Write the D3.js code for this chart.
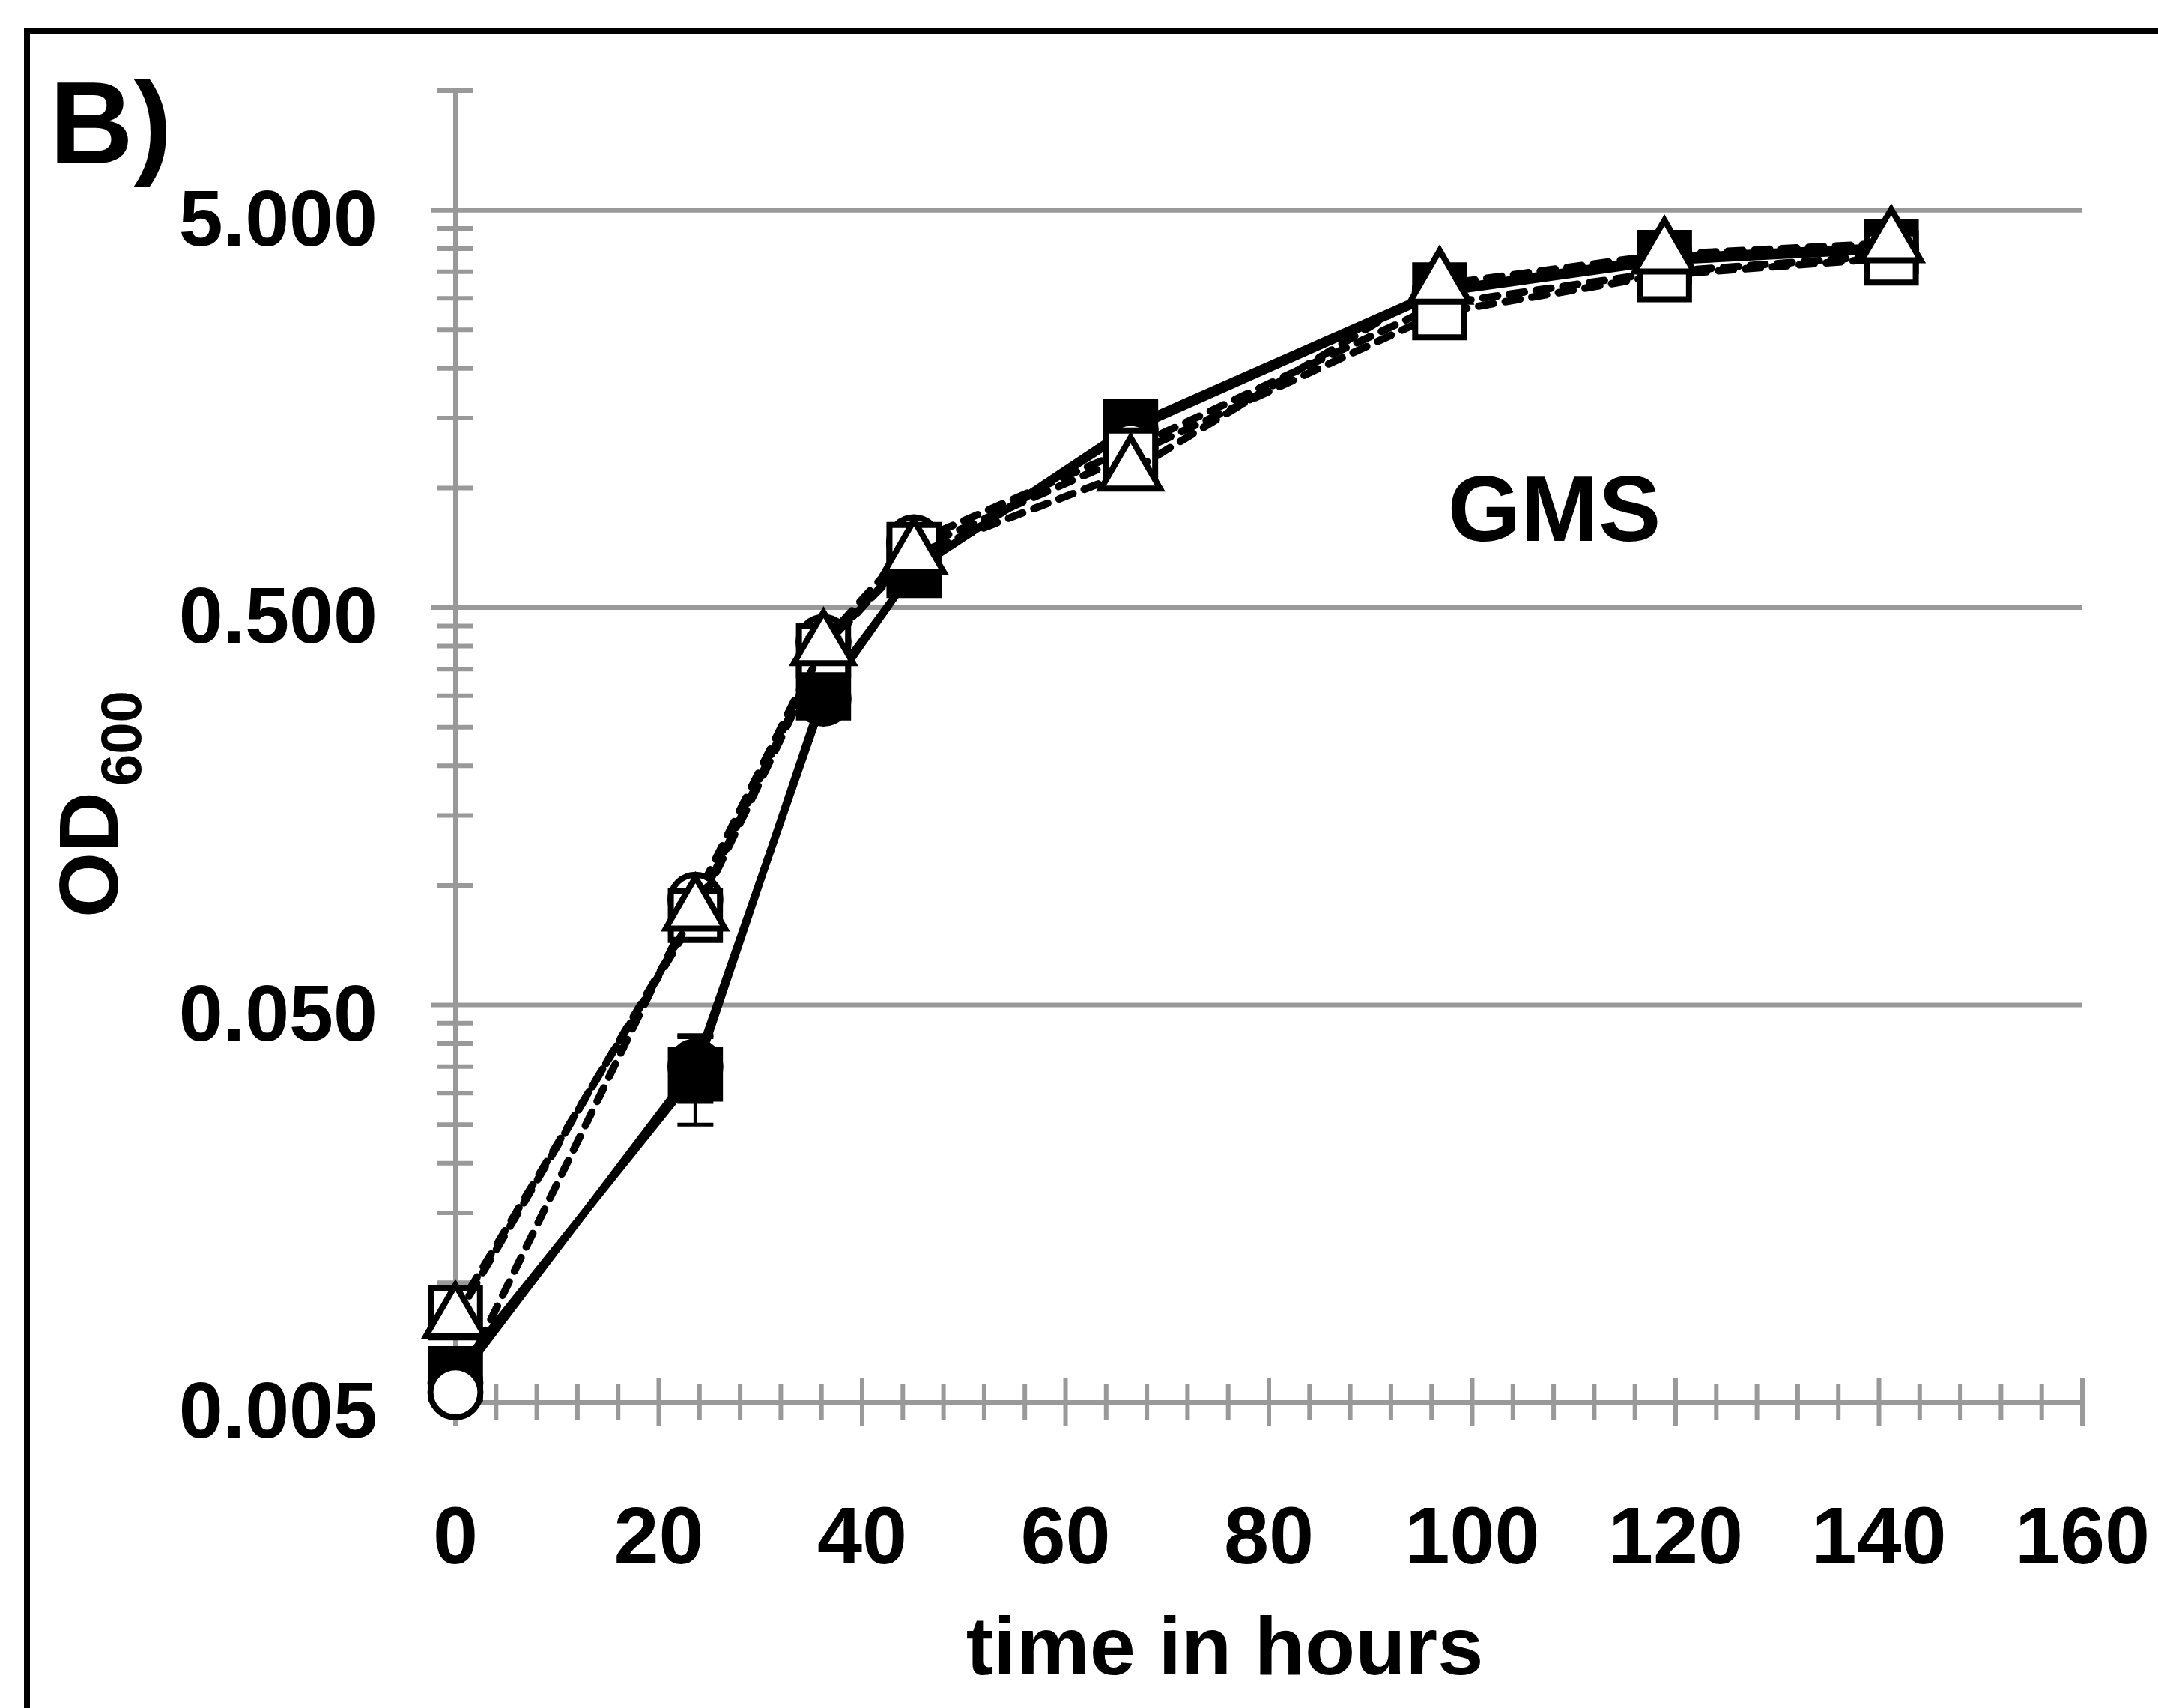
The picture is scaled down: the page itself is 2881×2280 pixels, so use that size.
<!DOCTYPE html>
<html lang="en">
<head>
<meta charset="utf-8">
<title>OD600 growth curve - GMS</title>
<script src="https://d3js.org/d3.v7.min.js"></script>
<style>
  body { margin: 0; background: #fff; }
  text { font-family: "Liberation Sans", Arial, sans-serif; font-weight: bold; fill: #000; }
</style>
</head>
<body>
<div id="chart"></div>
<script>
// sampling times (hours)
var hours = [0, 23.6, 36.2, 45.1, 66.4, 96.8, 118.9, 141.2];

// OD600 for each strain
var filledCircle = [0.0056, 0.0350, 0.295, 0.625, 1.40, 3.10, 3.72, 3.98];
var filledSquare = [0.0059, 0.0335, 0.305, 0.62, 1.43, 3.15, 3.80, 4.05];
var openCircle   = [0.0053, 0.092, 0.41, 0.73, 1.26, 2.90, 3.50, 3.85];
var openSquare   = [0.0084, 0.084, 0.39, 0.70, 1.21, 2.76, 3.44, 3.79];
var openTriangle = [0.0081, 0.086, 0.40, 0.68, 1.10, 3.25, 3.87, 4.13];

// standard deviations (error bars)
var filledCircleSd = [0.0003, 0.0065, 0.02, 0.03, 0.06, 0.10, 0.10, 0.10];
var filledSquareSd = [0.0003, 0.0085, 0.02, 0.03, 0.06, 0.10, 0.10, 0.10];
var openCircleSd   = [0.0003, 0.004, 0.02, 0.03, 0.05, 0.10, 0.10, 0.10];
var openSquareSd   = [0.0003, 0.004, 0.02, 0.03, 0.05, 0.10, 0.10, 0.10];
var openTriangleSd = [0.0003, 0.004, 0.02, 0.03, 0.05, 0.10, 0.10, 0.10];

// axis ticks
var yTicks = [0.005, 0.05, 0.5, 5];
var xTicks = [0, 20, 40, 60, 80, 100, 120, 140, 160];

var W = 2881, H = 2280;
var grey = "#999999";

var svg = d3.select("#chart").append("svg")
    .attr("width", W)
    .attr("height", H);

svg.append("rect").attr("width", W).attr("height", H).attr("fill", "#fff");

// panel frame (runs off the right and bottom edge)
svg.append("rect")
    .attr("x", 36).attr("y", 42)
    .attr("width", W + 100).attr("height", H + 100)
    .attr("fill", "none")
    .attr("stroke", "#000")
    .attr("stroke-width", 8);

var x = d3.scaleLinear().domain([0, 160]).range([608, 2780]);
var y = d3.scaleLog().domain([0.005, 10]).range([1872, 121]);

// horizontal gridlines
svg.append("g").selectAll("line")
  .data(yTicks.slice(1))
  .enter().append("line")
    .attr("x1", x(0) - 32).attr("x2", x(160))
    .attr("y1", function(d) { return y(d); })
    .attr("y2", function(d) { return y(d); })
    .attr("stroke", grey).attr("stroke-width", 6);

// y minor ticks: 2..9 times each decade start
var yMinor = [];
yTicks.forEach(function(b) {
  for (var k = 2; k <= 9; k++) { if (b * k <= 10.0001) yMinor.push(b * k); }
});
var xMinor = d3.range(0, 161, 4).filter(function(d) { return d % 20 !== 0; });

var axes = svg.append("g").attr("stroke", grey).attr("stroke-width", 6);

// y axis line
axes.append("line")
    .attr("x1", x(0)).attr("x2", x(0))
    .attr("y1", y(0.005)).attr("y2", y(10));
axes.selectAll(".ymin").data(yMinor).enter().append("line")
    .attr("x1", x(0) - 24).attr("x2", x(0) + 24)
    .attr("y1", function(d) { return y(d); })
    .attr("y2", function(d) { return y(d); });
axes.append("line")
    .attr("x1", x(0) - 32).attr("x2", x(0))
    .attr("y1", y(0.005)).attr("y2", y(0.005));

// x axis line
axes.append("line")
    .attr("x1", x(0)).attr("x2", x(160))
    .attr("y1", y(0.005)).attr("y2", y(0.005));
axes.selectAll(".xmaj").data(xTicks).enter().append("line")
    .attr("x1", function(d) { return x(d); })
    .attr("x2", function(d) { return x(d); })
    .attr("y1", y(0.005) - 32).attr("y2", y(0.005) + 32);
axes.selectAll(".xmin").data(xMinor).enter().append("line")
    .attr("x1", function(d) { return x(d); })
    .attr("x2", function(d) { return x(d); })
    .attr("y1", y(0.005) - 24).attr("y2", y(0.005) + 24);

// tick labels
svg.append("g").selectAll("text")
  .data(yTicks).enter().append("text")
    .attr("x", 504)
    .attr("y", function(d) { return y(d) + 47; })
    .attr("text-anchor", "end")
    .style("font-size", "106px")
    .text(d3.format(".3f"));

svg.append("g").selectAll("text")
  .data(xTicks).enter().append("text")
    .attr("x", function(d) { return x(d); })
    .attr("y", 2087)
    .attr("text-anchor", "middle")
    .style("font-size", "108px")
    .text(function(d) { return d; });

// series
var series = [
  {values: filledCircle, sd: filledCircleSd, symbol: d3.symbolCircle, size: 3500, fill: "#000", dash: null},
  {values: filledSquare, sd: filledSquareSd, symbol: d3.symbolSquare, size: 4300, fill: "#000", dash: null},
  {values: openCircle, sd: openCircleSd, symbol: d3.symbolCircle, size: 3500, fill: "#fff", dash: "20,16"},
  {values: openSquare, sd: openSquareSd, symbol: d3.symbolSquare, size: 4300, fill: "#fff", dash: "20,16"},
  {values: openTriangle, sd: openTriangleSd, symbol: d3.symbolTriangle, size: 2700, fill: "#fff", dash: "20,16"}
];

var line = d3.line()
    .x(function(d) { return x(d.t); })
    .y(function(d) { return y(d.v); });

series.forEach(function(s) {
  var pts = hours.map(function(t, i) { return {t: t, v: s.values[i], sd: s.sd[i]}; });
  var g = svg.append("g");

  g.append("path")
      .datum(pts)
      .attr("d", line)
      .attr("fill", "none")
      .attr("stroke", "#000")
      .attr("stroke-width", 10)
      .attr("stroke-linejoin", "round")
      .attr("stroke-linecap", "round")
      .attr("stroke-dasharray", s.dash);

  // error bars
  var eb = g.selectAll(".eb").data(pts).enter().append("g")
      .attr("stroke", "#000").attr("stroke-width", 5);
  eb.append("line")
      .attr("x1", function(d) { return x(d.t); })
      .attr("x2", function(d) { return x(d.t); })
      .attr("y1", function(d) { return y(d.v + d.sd); })
      .attr("y2", function(d) { return y(Math.max(d.v - d.sd, 0.0051)); });
  eb.append("line")
      .attr("x1", function(d) { return x(d.t) - 24; })
      .attr("x2", function(d) { return x(d.t) + 24; })
      .attr("y1", function(d) { return y(d.v + d.sd); })
      .attr("y2", function(d) { return y(d.v + d.sd); });
  eb.append("line")
      .attr("x1", function(d) { return x(d.t) - 24; })
      .attr("x2", function(d) { return x(d.t) + 24; })
      .attr("y1", function(d) { return y(Math.max(d.v - d.sd, 0.0051)); })
      .attr("y2", function(d) { return y(Math.max(d.v - d.sd, 0.0051)); });

  g.selectAll(".mk").data(pts).enter().append("path")
      .attr("transform", function(d) { return "translate(" + x(d.t) + "," + y(d.v) + ")"; })
      .attr("d", d3.symbol().type(s.symbol).size(s.size))
      .attr("fill", s.fill)
      .attr("stroke", "#000")
      .attr("stroke-width", 8);
});

// panel letter and annotation
svg.append("text")
    .attr("x", 66).attr("y", 218)
    .style("font-size", "155px")
    .text("B)");

svg.append("text")
    .attr("x", 2075).attr("y", 722)
    .attr("text-anchor", "middle")
    .style("font-size", "125px")
    .text("GMS");

// axis titles
svg.append("text")
    .attr("x", 1635).attr("y", 2235)
    .attr("text-anchor", "middle")
    .style("font-size", "110px")
    .text("time in hours");

var yt = svg.append("text")
    .attr("transform", "translate(157,1225) rotate(-90)");
yt.append("tspan").style("font-size", "112px").text("OD");
yt.append("tspan").attr("dx", 8).attr("dy", 31).style("font-size", "76px").text("600");
</script>
</body>
</html>
